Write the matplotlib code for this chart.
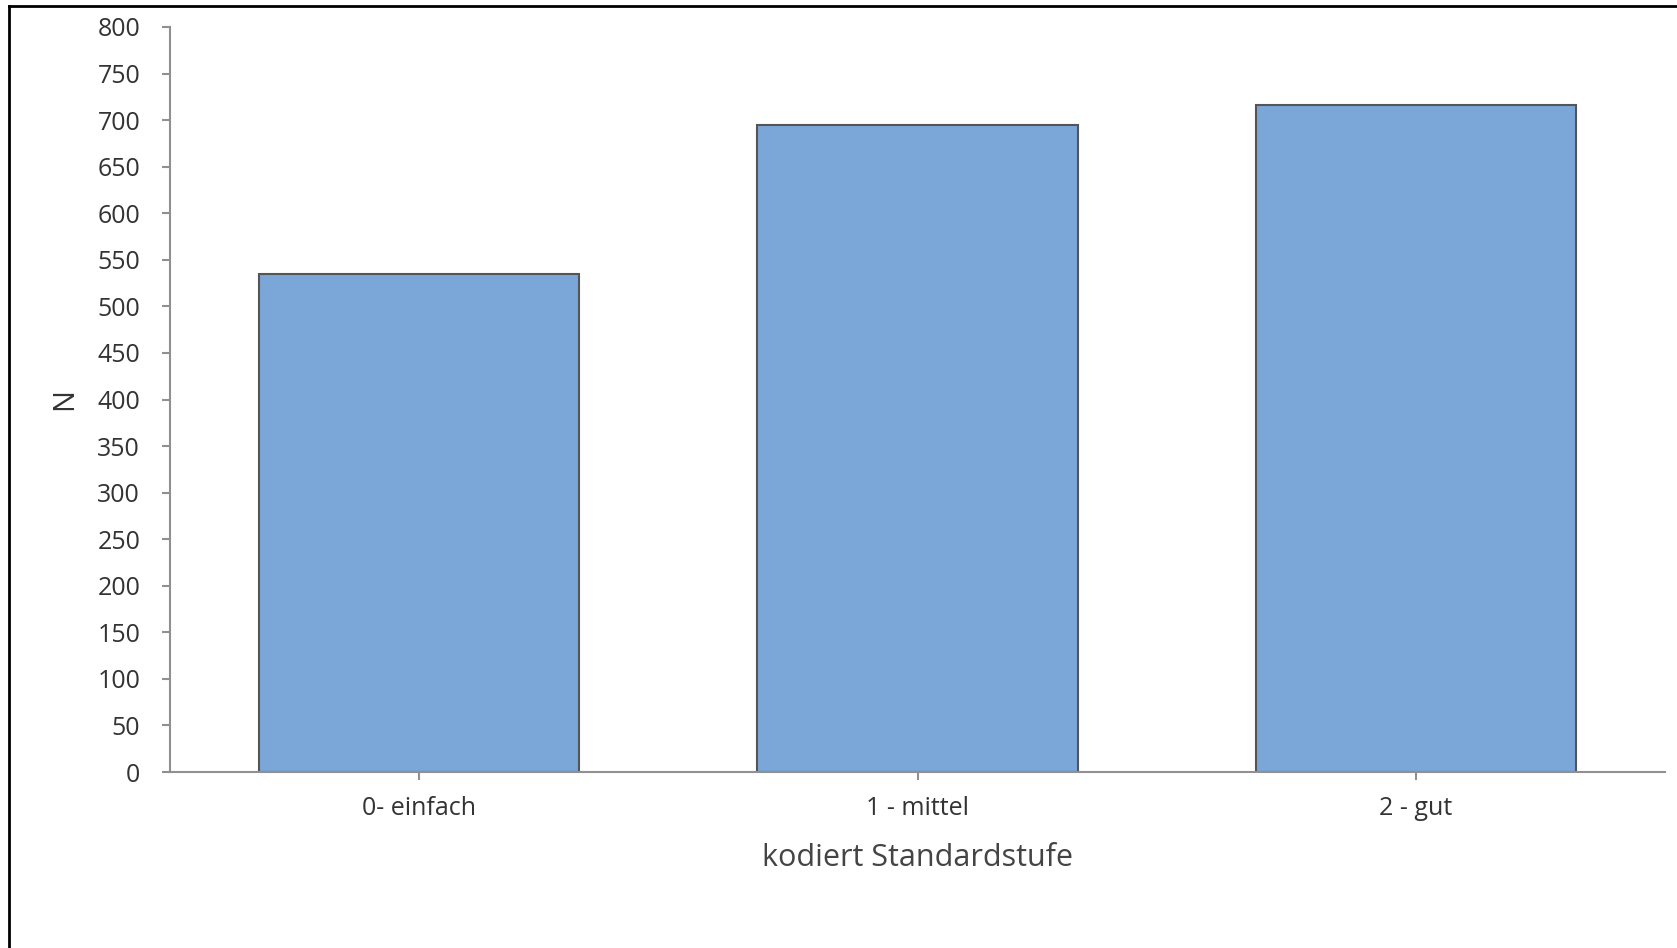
import matplotlib
matplotlib.use("Agg")
import matplotlib.pyplot as plt
from matplotlib.lines import Line2D

categories = ["0- einfach", "1 - mittel", "2 - gut"]
counts = [535, 695, 716]
yticks = list(range(0, 801, 50))

plt.rcParams['font.family'] = ['Open Sans', 'DejaVu Sans']

fig = plt.figure(figsize=(16.77, 9.48), dpi=100)
ax = fig.add_axes([170/1677, 1-772/948, (1665-170)/1677, (772-27)/948])

x = list(range(len(categories)))
ax.bar(x, counts, width=0.643, color='#7BA6D8', edgecolor='#555555', linewidth=1.5, zorder=2)

ax.set_xlim(-0.5, 2.5)
ax.set_ylim(0, 800)
ax.set_yticks(yticks)
ax.set_xticks(x)
ax.set_xticklabels(categories)

for s in ['top', 'right']:
    ax.spines[s].set_visible(False)
for s in ['left', 'bottom']:
    ax.spines[s].set_color('#909090')
    ax.spines[s].set_linewidth(1.5)

ax.tick_params(axis='y', direction='out', length=6, width=1.5, color='#909090',
               labelsize=18, labelcolor='#333333', pad=15.5)
ax.tick_params(axis='x', direction='out', length=6, width=1.5, color='#909090',
               labelsize=18, labelcolor='#333333', pad=11)

ax.set_xlabel('kodiert Standardstufe', fontsize=22, color='#444444', labelpad=16)
ax.set_ylabel('N', fontsize=21, color='#333333', labelpad=13)

# outer frame (left and top visible)
fig.add_artist(Line2D([9/1677, 9/1677], [0, 1-6/948], transform=fig.transFigure, color='black', linewidth=2))
fig.add_artist(Line2D([9/1677, 1], [1-6/948, 1-6/948], transform=fig.transFigure, color='black', linewidth=2))

fig.savefig('out.png', dpi=100)
